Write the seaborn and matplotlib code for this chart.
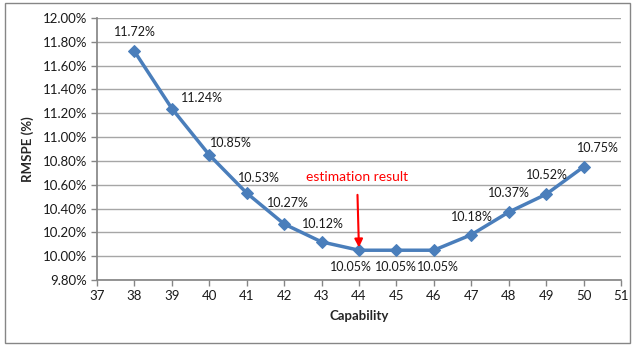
import matplotlib
matplotlib.use("Agg")
import matplotlib.pyplot as plt
import matplotlib.patches as mpatches
import seaborn as sns
import pandas as pd
import numpy as np

capability = [38, 39, 40, 41, 42, 43, 44, 45, 46, 47, 48, 49, 50]
rmspe = [11.72, 11.24, 10.85, 10.53, 10.27, 10.12, 10.05, 10.05, 10.05, 10.18, 10.37, 10.52, 10.75]
x_ticks = list(range(37, 52))
y_ticks = [9.80, 10.00, 10.20, 10.40, 10.60, 10.80, 11.00, 11.20, 11.40, 11.60, 11.80, 12.00]

# label offsets in pixels (dx, dy)
label_offsets = [(0, 19), (30, 11), (22, 12), (12, 15), (4, 21), (1, 18),
                 (-8, -17), (-1, -17), (4, -17), (1, 18), (0, 19), (1, 19), (14, 19)]

sns.set_theme(style="white")
plt.rcParams['font.family'] = ['Lato', 'DejaVu Sans']

df = pd.DataFrame({"Capability": capability, "RMSPE": rmspe})

fig = plt.figure(figsize=(6.37, 3.47), dpi=100)
W, H = 637, 347
ax = fig.add_axes([97 / W, 1 - 280 / H, (621 - 97) / W, (280 - 18) / H])

color = "#4A7EBB"
sns.lineplot(data=df, x="Capability", y="RMSPE", ax=ax, color=color, linewidth=2.5,
             marker="D", markersize=6.5, markeredgecolor=color, markerfacecolor=color)

ax.set_xlim(37, 51)
ax.set_ylim(9.80, 12.00)
ax.set_xticks(x_ticks)
ax.set_xticklabels([str(v) for v in x_ticks], fontsize=9.5)
ax.set_yticks(y_ticks)
ax.set_yticklabels([f"{v:.2f}%" for v in y_ticks], fontsize=9.5)
ax.yaxis.grid(True, color="#A6A6A6", linewidth=1)
ax.xaxis.grid(False)
ax.set_axisbelow(True)
for s in ["top", "right"]:
    ax.spines[s].set_visible(False)
ax.spines["left"].set_color("#868686")
ax.spines["bottom"].set_color("#868686")
ax.tick_params(axis="both", which="both", direction="out", length=4, width=1,
               color="#868686", labelcolor="#1a1a1a", pad=3)
ax.tick_params(axis="y", left=True)
ax.tick_params(axis="x", bottom=True)

ax.set_xlabel("Capability", fontsize=9.5, fontweight="bold", labelpad=6)
ax.set_ylabel("RMSPE (%)", fontsize=9.5, fontweight="bold", labelpad=6)

for x, y, (dx, dy) in zip(capability, rmspe, label_offsets):
    ax.annotate(f"{y:.2f}%", xy=(x, y), xytext=(dx, dy), textcoords="offset pixels",
                ha="center", va="center", fontsize=9, color="#1a1a1a")

ax.annotate("estimation result", xy=(44, 10.05), xytext=(-2, 73), textcoords="offset pixels",
            ha="center", va="center", fontsize=10, color="red",
            arrowprops=dict(arrowstyle="-|>", color="red", lw=1.5,
                            shrinkA=6, shrinkB=2, mutation_scale=12))

fig.patches.append(mpatches.Rectangle((5 / W, 1 - 343 / H), (630 - 5) / W, (343 - 3) / H,
                                      transform=fig.transFigure, fill=False,
                                      edgecolor="#868686", linewidth=1))

fig.savefig("out.png", dpi=100)
